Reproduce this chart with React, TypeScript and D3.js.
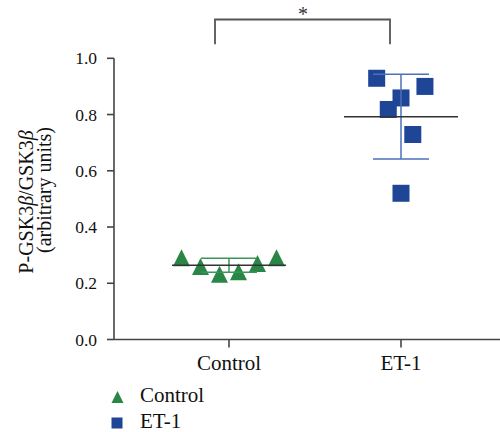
import React from 'react';
import * as d3 from 'd3';

const groups = ['Control', 'ET-1'];
const controlValues = [0.291, 0.260, 0.232, 0.241, 0.270, 0.291];
const et1Values = [0.929, 0.900, 0.859, 0.818, 0.729, 0.520];
// horizontal scatter spread of each point, in symbol steps
const controlSpread = [-2.5, -1.5, -0.5, 0.5, 1.5, 2.5];
const et1Spread = [-1.28, 1.26, 0, -0.67, 0.62, 0];
const yTicks = [0.0, 0.2, 0.4, 0.6, 0.8, 1.0];

const GREEN = '#2a8646';
const GREEN_BAR = '#3a9656';
const BLUE = '#1f4597';
const BLUE_BAR = '#4d70b8';
const AXIS = '#444';
const TEXT = '#111';
const FONT = "'Liberation Serif'";

const W = 500;
const H = 432;
const SYM = 17;

const y = d3.scaleLinear().domain([0, 1]).range([339.5, 58.3]);
const x = d3.scalePoint<string>().domain(groups).range([229, 401]);
const spread = d3.scaleLinear().domain([0, 1]).range([0, 19]);
const axisLeft = 114;
const axisRight = 500;

const trianglePath = (cx: number, cy: number, s: number) => {
  const p = d3.path();
  p.moveTo(cx, cy - s / 2);
  p.lineTo(cx + s / 2, cy + s / 2);
  p.lineTo(cx - s / 2, cy + s / 2);
  p.closePath();
  return p.toString();
};

const stats = (v: number[]) => ({ mean: d3.mean(v) as number, sd: d3.deviation(v) as number });

const Group: React.FC<{ name: string; values: number[]; offsets: number[]; kind: 'tri' | 'sq' }> = ({ name, values, offsets, kind }) => {
  const cx = x(name) as number;
  const { mean, sd } = stats(values);
  const bar = kind === 'tri' ? GREEN_BAR : BLUE_BAR;
  const fill = kind === 'tri' ? GREEN : BLUE;
  return (
    <g>
      {values.map((v, i) => {
        const px = cx + spread(offsets[i]);
        const py = y(v);
        return kind === 'tri'
          ? <path key={i} d={trianglePath(px, py, SYM)} fill={fill} />
          : <rect key={i} x={px - SYM / 2} y={py - SYM / 2} width={SYM} height={SYM} fill={fill} />;
      })}
      {/* SD error bar */}
      <line x1={cx} x2={cx} y1={y(mean + sd)} y2={y(mean - sd)} stroke={bar} strokeWidth={1.5} />
      <line x1={cx - 28} x2={cx + 28} y1={y(mean + sd)} y2={y(mean + sd)} stroke={bar} strokeWidth={1.5} />
      <line x1={cx - 28} x2={cx + 28} y1={y(mean - sd)} y2={y(mean - sd)} stroke={bar} strokeWidth={1.5} />
      {/* mean */}
      <line x1={cx - 57} x2={cx + 57} y1={y(mean)} y2={y(mean)} stroke="#333" strokeWidth={1.5} />
    </g>
  );
};

export default function App() {
  const c0 = x('Control') as number;
  const c1 = x('ET-1') as number;
  return (
    <svg width={W} height={H} style={{ position: 'absolute', left: 0, top: 0, background: '#fff', fontFamily: FONT }}>
      {/* significance bracket */}
      <path
        d={`M${c0 - 14},${y(1.05)}V${y(1.138)}H${c1 - 11}V${y(1.05)}`}
        fill="none" stroke="#555" strokeWidth={1.8}
      />
      <text x={(c0 + c1) / 2 - 12} y={21} fontSize={20} textAnchor="middle" fill="#333">*</text>

      {/* y axis */}
      <line x1={axisLeft} x2={axisLeft} y1={y(1)} y2={y(0)} stroke={AXIS} strokeWidth={1.6} />
      {yTicks.map(t => (
        <g key={t}>
          <line x1={axisLeft - 7} x2={axisLeft} y1={y(t)} y2={y(t)} stroke={AXIS} strokeWidth={1.6} />
          <text x={97} y={y(t)} dy="0.35em" fontSize={17.5} textAnchor="end" fill={TEXT}>{t.toFixed(1)}</text>
        </g>
      ))}

      {/* x axis */}
      <line x1={axisLeft} x2={axisRight} y1={y(0)} y2={y(0)} stroke={AXIS} strokeWidth={1.6} />
      {groups.map(g => (
        <g key={g}>
          <line x1={x(g)} x2={x(g)} y1={y(0)} y2={y(0) + 8} stroke={AXIS} strokeWidth={1.6} />
          <text x={x(g)} y={370} fontSize={21} textAnchor="middle" fill={TEXT}>{g}</text>
        </g>
      ))}

      {/* y label */}
      <text transform="rotate(-90)" x={-202} y={33} fontSize={20} textAnchor="middle" fill={TEXT}>
        P-GSK3<tspan fontStyle="italic">β</tspan>/GSK3<tspan fontStyle="italic">β</tspan>
      </text>
      <text transform="rotate(-90)" x={-190} y={51} fontSize={20} textAnchor="middle" fill={TEXT}>(arbitrary units)</text>

      <Group name="Control" values={controlValues} offsets={controlSpread} kind="tri" />
      <Group name="ET-1" values={et1Values} offsets={et1Spread} kind="sq" />

      {/* legend */}
      <path d={trianglePath(117.5, 397, 12)} fill={GREEN} />
      <text x={140} y={402} fontSize={21} fill={TEXT}>{groups[0]}</text>
      <rect x={117 - 5.5} y={423 - 5.5} width={11} height={11} fill={BLUE} />
      <text x={140} y={428} fontSize={21} fill={TEXT}>{groups[1]}</text>
    </svg>
  );
}
